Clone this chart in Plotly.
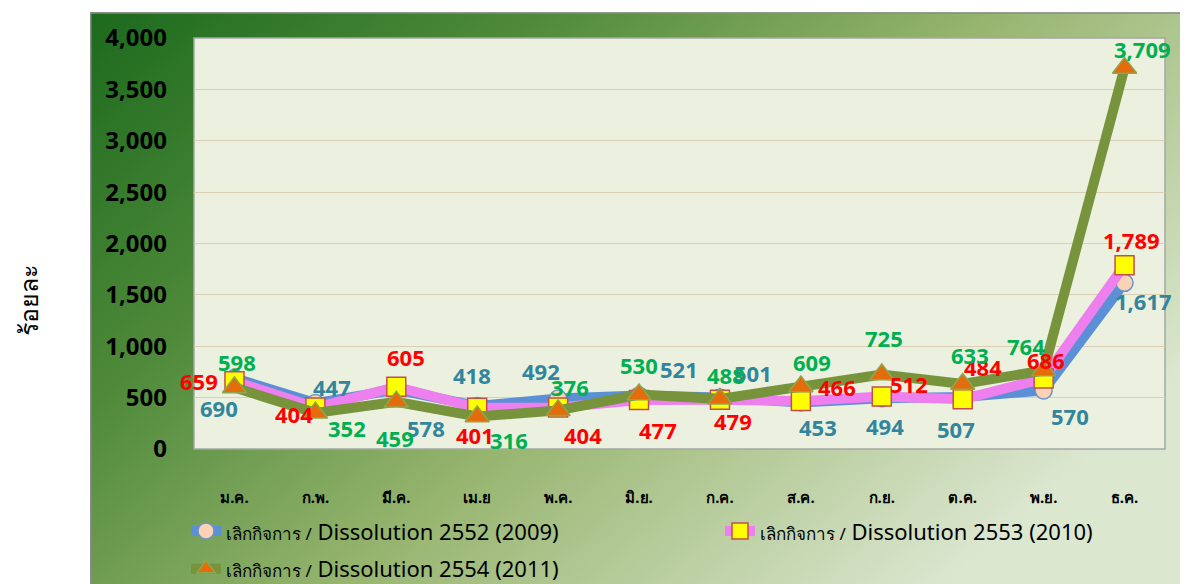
import base64
import plotly.graph_objects as go

# ---------------- data ----------------
months = ["ม.ค.", "ก.พ.", "มี.ค.", "เม.ย", "พ.ค.", "มิ.ย.", "ก.ค.", "ส.ค.", "ก.ย.", "ต.ค.", "พ.ย.", "ธ.ค."]
val_2552 = [690, 447, 578, 418, 492, 521, 501, 453, 494, 507, 570, 1617]
val_2553 = [659, 404, 605, 401, 404, 477, 479, 466, 512, 484, 686, 1789]
val_2554 = [598, 352, 459, 316, 376, 530, 488, 609, 725, 633, 764, 3709]
series_names = [
    "Dissolution 2552 (2009)",
    "Dissolution 2553 (2010)",
    "Dissolution 2554 (2011)",
]
thai_prefix = "เลิกกิจการ /"
y_title = "ร้อยละ"
y_ticks = [0, 500, 1000, 1500, 2000, 2500, 3000, 3500, 4000]

# ---------------- styles ----------------
line_colors = ["#5B8FD6", "#EE7FEE", "#77933C"]
label_colors = ["#31859C", "#FF0000", "#00B050"]
marker_styles = [
    dict(symbol="circle", size=17, color="#FBD2B4", line=dict(color="#6C93C9", width=1.5)),
    dict(symbol="square", size=19, color="#FFFF00", line=dict(color="#C0504D", width=1.5)),
    dict(symbol="triangle-up", size=21, color="#E46C0A", line=dict(color="#8EA64F", width=1.5)),
]
# label offsets (px right, px down) from each point
offsets = [
    [(-15, 30), (17, -16), (30, 38), (-5, -31), (-17, -27), (40, -26), (33, -25), (17, 25), (3, 28), (-7, 32), (26, 26), (19, 18)],
    [(-35, 0), (-21, 7), (10, -30), (-2, 27), (25, 28), (19, 30), (13, 21), (36, -14), (27, -12), (20, -32), (2, -19), (7, -25)],
    [(3, -26), (32, 15), (-1, 36), (32, 23), (12, -23), (0, -30), (6, -24), (11, -24), (2, -37), (7, -29), (-18, -25), (18, -19)],
]

FONT = "Noto Sans, DejaVu Sans, sans-serif"
OFF = 8  # page body margin
W, H = 1188 - OFF, 640  # taller than the window so the legend never pushes margins

# page-pixel targets
PL, PR, PT, PB = 194 - OFF, 1165 - OFF, 34 - OFF, 449 - OFF
pw, ph = PR - PL, PB - PT

def px_x(px):
    return (px - OFF - PL) / pw

def px_y(py):
    return (PB - (py - OFF)) / ph

fig = go.Figure()
all_vals = [val_2552, val_2553, val_2554]
legend_ids = ["legend", "legend2", "legend3"]
for i, vals in enumerate(all_vals):
    name = ('<span style="font-size:17px">' + thai_prefix + '</span> ' + series_names[i])
    fig.add_trace(go.Scatter(
        x=months, y=vals, mode="lines+markers", name=name,
        line=dict(color=line_colors[i], width=10),
        marker=marker_styles[i], legend=legend_ids[i],
    ))

annotations = []
for i, vals in enumerate(all_vals):
    for j, v in enumerate(vals):
        dx, dy = offsets[i][j]
        annotations.append(dict(
            x=months[j], y=v, xref="x", yref="y", text=f"{v:,}",
            showarrow=False, xshift=dx, yshift=-dy,
            font=dict(family=FONT, size=22, color=label_colors[i], weight="bold"),
        ))

annotations.append(dict(
    x=px_x(28), y=px_y(300), xref="paper", yref="paper", text=y_title, textangle=-90,
    xanchor="center", yanchor="middle",
    showarrow=False, font=dict(family=FONT, size=25, color="black"),
))

# gradient background frame as an SVG image
svg = (
    '<svg xmlns="http://www.w3.org/2000/svg" width="1100" height="600" viewBox="0 0 1100 600" preserveAspectRatio="none">'
    '<defs><linearGradient id="g" x1="0" y1="0" x2="1" y2="0.6">'
    '<stop offset="0" stop-color="#1C6A1D"/>'
    '<stop offset="0.3" stop-color="#4F8A3A"/>'
    '<stop offset="0.6" stop-color="#97B56F"/>'
    '<stop offset="1" stop-color="#DCE7D0"/>'
    '</linearGradient></defs>'
    '<rect x="0" y="0" width="1100" height="600" fill="url(#g)" stroke="#8A8A8A" stroke-width="3"/>'
    '</svg>'
)
src = "data:image/svg+xml;base64," + base64.b64encode(svg.encode()).decode()

legend_common = dict(
    orientation="h", xanchor="left", yanchor="middle", bgcolor="rgba(0,0,0,0)",
    font=dict(family=FONT, size=22, color="black"),
)
legend_pos = [(186, 532), (720, 532), (186, 570)]

layout_legends = {}
for k, lid in enumerate(legend_ids):
    lx, ly = legend_pos[k]
    layout_legends[lid] = dict(x=px_x(lx), y=px_y(ly), **legend_common)

fig.update_layout(
    width=W, height=H,
    margin=dict(l=PL, r=W - PR, t=PT, b=H - PB, pad=0),
    paper_bgcolor="white", plot_bgcolor="rgba(0,0,0,0)",
    images=[dict(
        source=src, xref="paper", yref="paper",
        x=px_x(90), y=px_y(8), sizex=(1200 - 90) / pw, sizey=(600 - 8) / ph,
        xanchor="left", yanchor="top", sizing="stretch", layer="below",
    )],
    shapes=[dict(
        type="rect", xref="paper", yref="paper", x0=0, x1=1, y0=0, y1=1,
        fillcolor="#EBF0DF", line=dict(color="#A6A6A6", width=1.5), layer="below",
    )],
    xaxis=dict(
        type="category", range=[-0.5, 11.5], showgrid=False, zeroline=False,
        ticks="", tickfont=dict(family=FONT, size=15, color="black", weight="bold"),
        ticklabelstandoff=38, showline=False,
    ),
    yaxis=dict(
        range=[0, 4000], tickvals=y_ticks, tickformat=",", showgrid=True,
        gridcolor="#D9CFB4", gridwidth=1, zeroline=False, ticks="",
        tickfont=dict(family=FONT, size=24, color="black", weight="bold"),
        ticklabelstandoff=26, showline=False,
    ),
    showlegend=True,
    annotations=annotations,
    **layout_legends,
)

fig.write_html("out.html")
